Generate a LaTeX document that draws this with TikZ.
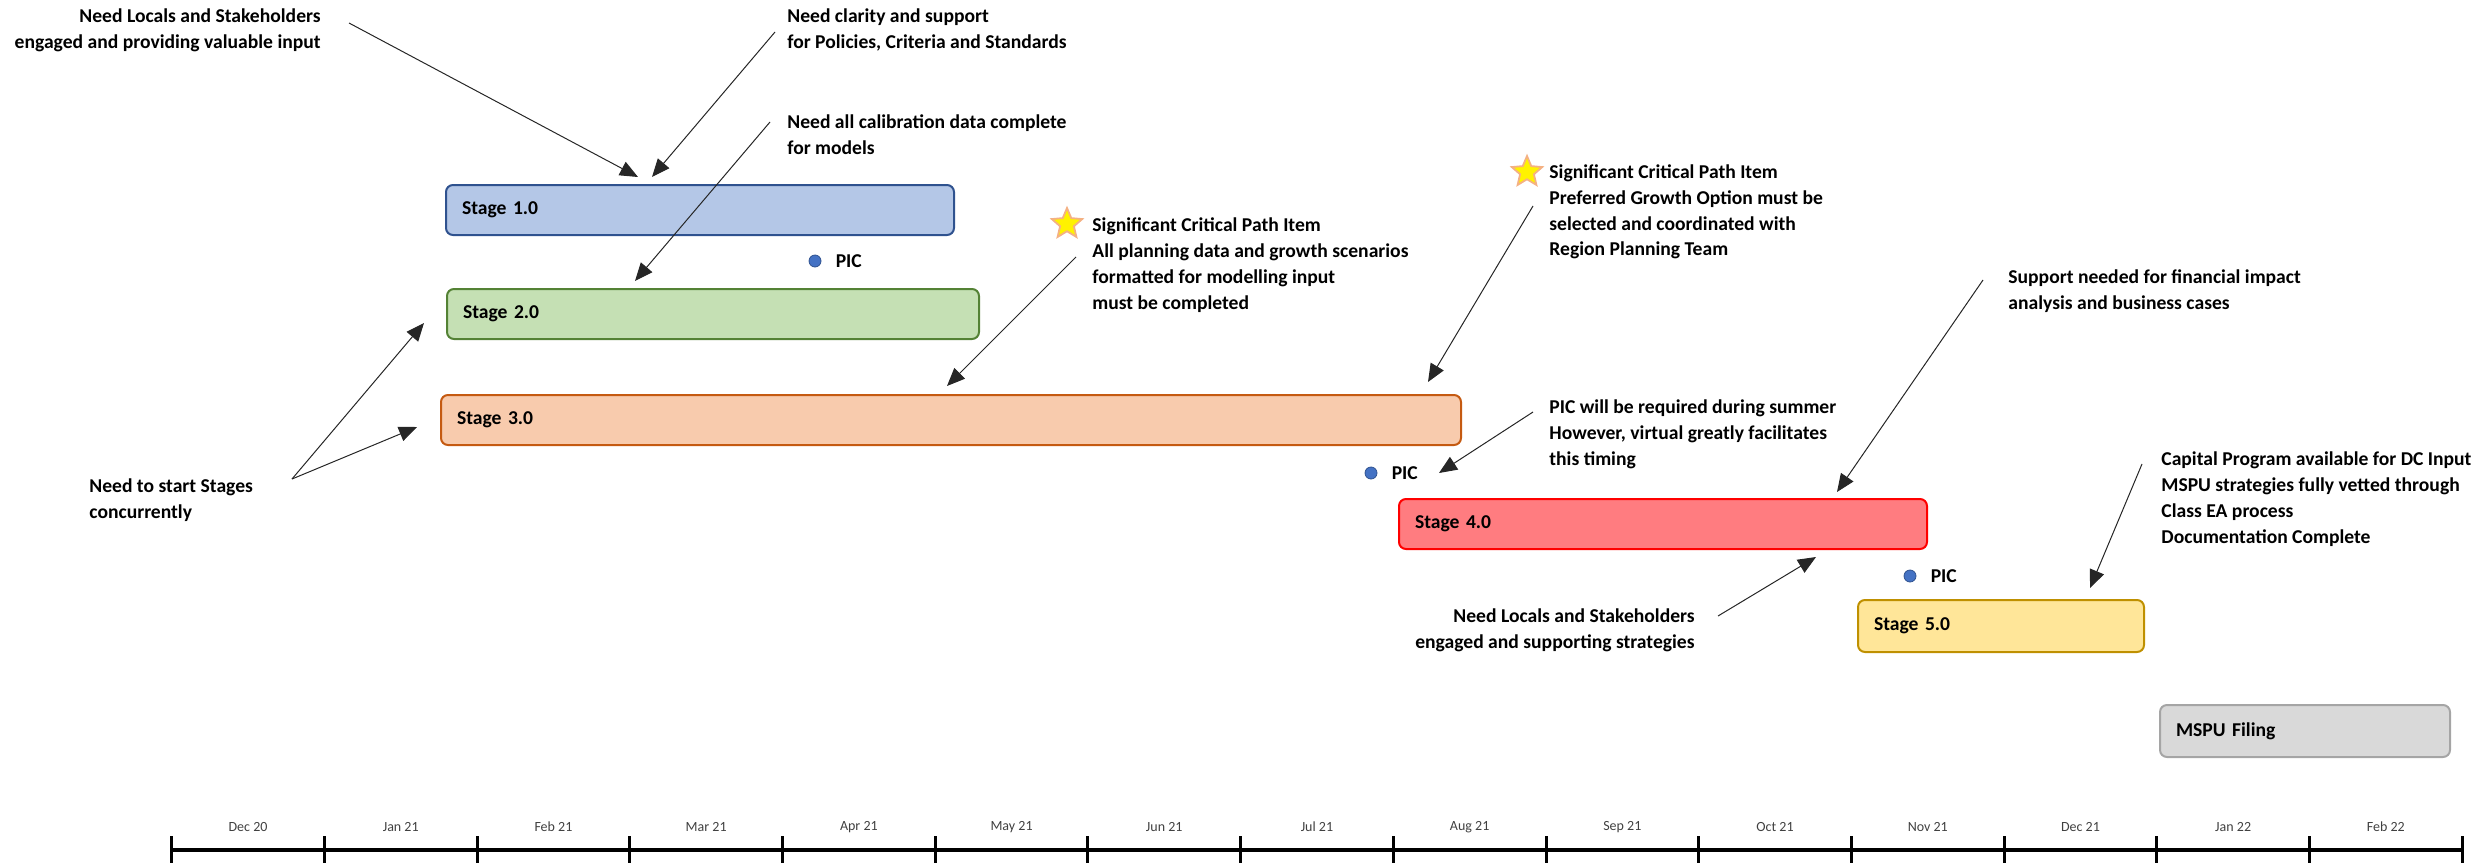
\documentclass[tikz,border=0pt]{standalone}
\usepackage{fontspec}
\setmainfont{Carlito}
\usepackage{xcolor}
\usetikzlibrary{positioning, arrows.meta, shapes.geometric}
\definecolor{stageonefill}{HTML}{B4C7E7}
\definecolor{stageoneline}{HTML}{2F528F}
\definecolor{stagetwofill}{HTML}{C5E0B4}
\definecolor{stagetwoline}{HTML}{548235}
\definecolor{stagethreefill}{HTML}{F8CBAD}
\definecolor{stagethreeline}{HTML}{C55A11}
\definecolor{stagefourfill}{HTML}{FF7C80}
\definecolor{stagefourline}{HTML}{FF0000}
\definecolor{stagefivefill}{HTML}{FFE699}
\definecolor{stagefiveline}{HTML}{BF9000}
\definecolor{filingfill}{HTML}{D9D9D9}
\definecolor{filingline}{HTML}{A5A5A5}
\definecolor{picblue}{HTML}{4472C4}
\definecolor{starorange}{HTML}{F4B183}
\definecolor{staryellow}{HTML}{FFF200}
\definecolor{monthgrey}{HTML}{404040}
\tikzset{
  stagebar/.style={rounded corners=3.5pt, line width=1pt, anchor=north west, align=left, minimum height=25pt, inner xsep=8pt, inner ysep=0pt, font=\fontsize{9.8}{12.9}\selectfont\bfseries},
  notetext/.style={align=left, inner sep=0pt, font=\fontsize{9.8}{12.9}\selectfont\bfseries},
  calloutarrow/.style={-{Triangle[length=9pt, width=7.5pt]}, line width=0.5pt, draw=black!85},
  picdot/.style={circle, fill=picblue, draw=stageoneline, line width=0.4pt, minimum size=6pt, inner sep=0pt},
  critical/.style={star, star points=5, star point ratio=2.2, fill=staryellow, draw=starorange, line width=0.9pt, minimum size=16pt, inner sep=0pt},
  monthlabel/.style={font=\fontsize{7}{8}\selectfont, text=monthgrey, inner sep=0pt},
  axisline/.style={line width=2pt, draw=black},
  axistick/.style={line width=1.5pt, draw=black},
}

\begin{document}
\begin{tikzpicture}[x=0.5pt, y=-0.5pt]
  \useasboundingbox (0,0) rectangle (2491,863);

  % Stages
  \node[stagebar, fill=stageonefill, draw=stageoneline, text width=238pt] (s1) at (445,184) {Stage 1.0};
  \node[stagebar, fill=stagetwofill, draw=stagetwoline, text width=250pt] (s2) at (446,288) {Stage 2.0};
  \node[stagebar, fill=stagethreefill, draw=stagethreeline, text width=494pt] (s3) at (440,394) {Stage 3.0};
  \node[stagebar, fill=stagefourfill, draw=stagefourline, text width=248pt] (s4) at (1398,498) {Stage 4.0};
  \node[stagebar, fill=stagefivefill, draw=stagefiveline, text width=127pt, minimum height=26pt] (s5) at (1857,599) {Stage 5.0};
  \node[stagebar, fill=filingfill, draw=filingline, text width=129pt, minimum height=26pt] (filing) at (2159,704) {MSPU Filing};

  % PIC markers
  \node[picdot] (pic1) at (815,261) {};
  \node[notetext, right=7pt of pic1] (pic1text) {PIC};
  \node[picdot] (pic2) at (1371,473) {};
  \node[notetext, right=7pt of pic2] (pic2text) {PIC};
  \node[picdot] (pic3) at (1910,576) {};
  \node[notetext, right=7pt of pic3] (pic3text) {PIC};

  % Critical path stars
  \node[critical] (star1) at (1067,224) {};
  \node[critical] (star2) at (1527,172) {};

  % Notes
  \node[notetext, anchor=east, align=right] (locals) at (321,30) {Need Locals and Stakeholders\\engaged and providing valuable input};
  \node[notetext, anchor=west] (policies) at (787,30) {Need clarity and support\\for Policies, Criteria and Standards};
  \node[notetext, anchor=west] (calibration) at (787,135) {Need all calibration data complete\\for models};
  \node[notetext, anchor=west] (planning) at (1092,265) {Significant Critical Path Item\\All planning data and growth scenarios\\formatted for modelling input\\must be completed};
  \node[notetext, anchor=west] (growth) at (1549,212) {Significant Critical Path Item\\Preferred Growth Option must be\\selected and coordinated with\\Region Planning Team};
  \node[notetext, anchor=west] (finance) at (2008,291) {Support needed for financial impact\\analysis and business cases};
  \node[notetext, anchor=west] (summer) at (1549,434) {PIC will be required during summer\\However, virtual greatly facilitates\\this timing};
  \node[notetext, anchor=west] (capital) at (2161,499) {Capital Program available for DC Input\\MSPU strategies fully vetted through\\Class EA process\\Documentation Complete};
  \node[notetext, anchor=east, align=right] (supporting) at (1695,630) {Need Locals and Stakeholders\\engaged and supporting strategies};
  \node[notetext, anchor=west] (concurrent) at (89,500) {Need to start Stages\\concurrently};

  % Arrow ends
  \coordinate (localstail) at (349,23);
  \coordinate (localshead) at (638,177);
  \coordinate (policiestail) at (775,32);
  \coordinate (policieshead) at (652,177);
  \coordinate (calibrationtail) at (770,122);
  \coordinate (calibrationhead) at (635,281);
  \coordinate (planningtail) at (1076,257);
  \coordinate (planninghead) at (947,386);
  \coordinate (growthtail) at (1533,206);
  \coordinate (growthhead) at (1428,382);
  \coordinate (financetail) at (1983,280);
  \coordinate (financehead) at (1837,492);
  \coordinate (summertail) at (1533,412);
  \coordinate (summerhead) at (1439,473);
  \coordinate (capitaltail) at (2142,464);
  \coordinate (capitalhead) at (2090,588);
  \coordinate (supportingtail) at (1718,616);
  \coordinate (supportinghead) at (1816,557);
  \coordinate (concurrenttail) at (292,479);
  \coordinate (stagetwohead) at (424,323);
  \coordinate (stagethreehead) at (417,427);

  \draw[calloutarrow] (localstail) -- (localshead);
  \draw[calloutarrow] (policiestail) -- (policieshead);
  \draw[calloutarrow] (calibrationtail) -- (calibrationhead);
  \draw[calloutarrow] (planningtail) -- (planninghead);
  \draw[calloutarrow] (growthtail) -- (growthhead);
  \draw[calloutarrow] (financetail) -- (financehead);
  \draw[calloutarrow] (summertail) -- (summerhead);
  \draw[calloutarrow] (capitaltail) -- (capitalhead);
  \draw[calloutarrow] (supportingtail) -- (supportinghead);
  \draw[calloutarrow] (concurrenttail) -- (stagetwohead);
  \draw[calloutarrow] (concurrenttail) -- (stagethreehead);

  % Timeline
  \draw[axisline] (171.7,850) -- (2462,850);
  \foreach \i in {0,...,15}
    \draw[axistick] ({171.7+152.7*\i},836) -- ({171.7+152.7*\i},863);
  \foreach \m [count=\i from 0] in {Dec 20, Jan 21, Feb 21, Mar 21, Apr 21, May 21, Jun 21, Jul 21, Aug 21, Sep 21, Oct 21, Nov 21, Dec 21, Jan 22, Feb 22}
    \node[monthlabel] (month\i) at ({171.7+152.7*(\i+0.5)},827) {\m};
\end{tikzpicture}
\end{document}
